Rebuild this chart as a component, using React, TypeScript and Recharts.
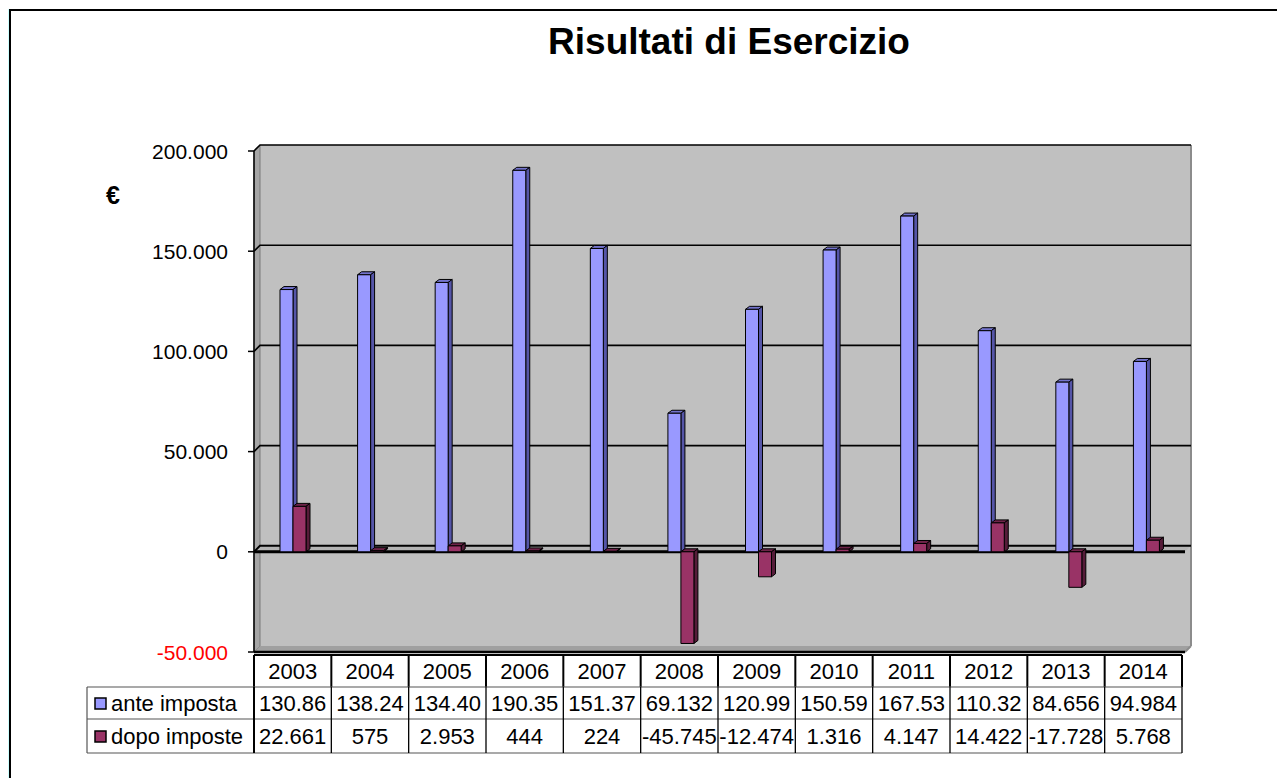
import React from 'react';
import { ComposedChart, Bar, XAxis, YAxis, ReferenceArea, ReferenceLine } from 'recharts';

const years = ['2003', '2004', '2005', '2006', '2007', '2008', '2009', '2010', '2011', '2012', '2013', '2014'];
const anteImposta = [130860, 138240, 134400, 190350, 151370, 69132, 120990, 150590, 167530, 110320, 84656, 94984];
const dopoImposte = [22661, 575, 2953, 444, 224, -45745, -12474, 1316, 4147, 14422, -17728, 5768];
const yTicks = [-50000, 0, 50000, 100000, 150000, 200000];
const gridTicks = [50000, 100000, 150000, 200000];
const seriesNames = ['ante imposta', 'dopo imposte'];
const seriesColors = ['#9999FF', '#993366'];
const seriesTop = ['#7373CC', '#6E2449'];
const seriesSide = ['#5555A8', '#561C39'];

const data = years.map((y, i) => ({ year: y, ante: anteImposta[i], dopo: dopoImposte[i] }));

const FONT = '"Liberation Sans", Arial, sans-serif';
const W = 1277;
const H = 770;
const DX = 6;
const DY = 6;

const fmt = (v: number) => {
  const s = Math.abs(v).toString().replace(/\B(?=(\d{3})+(?!\d))/g, '.');
  return (v < 0 ? '-' : '') + s;
};
const cellText = (v: number) => {
  const s = fmt(v);
  return v >= 100000 ? s.slice(0, 6) : s;
};

const WallShape = (p: any) => {
  const { x, y, width: w, height: h } = p;
  return (
    <g>
      <rect x={x + DX} y={y - DY} width={w} height={h} fill="#C0C0C0" />
      <polygon points={`${x},${y} ${x + DX},${y - DY} ${x + DX},${y + h - DY} ${x},${y + h}`} fill="#A6A6A6" stroke="#7A7A7A" strokeWidth={1} />
      <polygon points={`${x},${y + h} ${x + DX},${y + h - DY} ${x + w + DX},${y + h - DY} ${x + w},${y + h}`} fill="#A0A0A0" />
      <line x1={x + w + DX} y1={y - DY} x2={x + w + DX} y2={y + h - DY} stroke="#8C8C8C" strokeWidth={2} />
      <line x1={x + w} y1={y + h} x2={x + w + DX} y2={y + h - DY} stroke="#8C8C8C" strokeWidth={2} />
      <line x1={x} y1={y + h} x2={x + w} y2={y + h} stroke="#000" strokeWidth={2.5} />
      <line x1={x} y1={y} x2={x} y2={y + h} stroke="#000" strokeWidth={1.5} />
    </g>
  );
};

const GridShape = (p: any) => {
  const { x1, y1, x2, y2 } = p;
  return (
    <polyline
      points={`${x1},${y1} ${x1 + DX},${y1 - DY} ${x2 + DX},${y2 - DY}`}
      fill="none"
      stroke="#000"
      strokeWidth={1.6}
    />
  );
};

const ZeroShape = (p: any) => {
  const { x1, y1, x2, y2 } = p;
  return (
    <g>
      <polygon points={`${x1},${y1} ${x1 + DX},${y1 - DY} ${x2 + DX},${y2 - DY} ${x2},${y2}`} fill="#B4B4B4" />
      <polyline points={`${x1},${y1} ${x1 + DX},${y1 - DY} ${x2 + DX},${y2 - DY}`} fill="none" stroke="#000" strokeWidth={2} />
      <line x1={x1} y1={y1} x2={x2} y2={y2} stroke="#000" strokeWidth={3} />
    </g>
  );
};

const makeBarShape = (idx: number) => (p: any) => {
  const { x, y, width: w, height: h } = p;
  if (w == null || y == null) return <g />;
  const top = Math.min(y, y + h);
  const hh = Math.abs(h);
  const d = 4;
  const e = 3;
  return (
    <g stroke="#000" strokeWidth={1} strokeLinejoin="round">
      <polygon points={`${x},${top} ${x + d},${top - e} ${x + w + d},${top - e} ${x + w},${top}`} fill={seriesTop[idx]} />
      <polygon points={`${x + w},${top} ${x + w + d},${top - e} ${x + w + d},${top + hh - e} ${x + w},${top + hh}`} fill={seriesSide[idx]} />
      <rect x={x} y={top} width={w} height={hh} fill={seriesColors[idx]} />
    </g>
  );
};

const YTick = (p: any) => {
  const { x, y, payload } = p;
  const v = payload.value as number;
  return (
    <text x={x} y={y} dy="0.36em" textAnchor="end" fontSize={21} fontFamily={FONT} fill={v < 0 ? '#FF0000' : '#000'}>
      {fmt(v)}
    </text>
  );
};

// table geometry (container coordinates = page - 8)
const TL = 79;
const TC = 246;
const TR = 1174;
const ROWS = [647, 679, 711, 745];
const colW = (TR - TC) / years.length;

const Table = () => {
  const seriesVals = [anteImposta, dopoImposte];
  return (
    <g fontFamily={FONT} fontSize={22} fill="#000">
      <line x1={TC} y1={ROWS[0]} x2={TR} y2={ROWS[0]} stroke="#000" strokeWidth={2} />
      {years.map((_, i) => (
        <line key={'yv' + i} x1={TC + i * colW} y1={ROWS[0]} x2={TC + i * colW} y2={ROWS[1]} stroke="#000" strokeWidth={2} />
      ))}
      <line x1={TR} y1={ROWS[0]} x2={TR} y2={ROWS[1]} stroke="#000" strokeWidth={2} />
      {years.map((yr, i) => (
        <text key={'yt' + i} x={TC + (i + 0.5) * colW} y={(ROWS[0] + ROWS[1]) / 2} dy="0.36em" textAnchor="middle">
          {yr}
        </text>
      ))}
      {[1, 2, 3].map((r) => (
        <line key={'h' + r} x1={TL} y1={ROWS[r]} x2={TR} y2={ROWS[r]} stroke="#555" strokeWidth={1.2} />
      ))}
      <line x1={TL} y1={ROWS[1]} x2={TL} y2={ROWS[3]} stroke="#555" strokeWidth={1.2} />
      {years.map((_, i) => (
        <line key={'dv' + i} x1={TC + i * colW} y1={ROWS[1]} x2={TC + i * colW} y2={ROWS[3]} stroke="#000" strokeWidth={i === 0 ? 2 : 1.3} />
      ))}
      <line x1={TR} y1={ROWS[1]} x2={TR} y2={ROWS[3]} stroke="#000" strokeWidth={1.3} />
      {seriesNames.map((name, s) => {
        const cy = (ROWS[s + 1] + ROWS[s + 2]) / 2;
        return (
          <g key={'s' + s}>
            <rect x={TL + 8} y={cy - 5} width={11} height={11} fill={seriesColors[s]} stroke="#000" strokeWidth={1.5} />
            <text x={TL + 24} y={cy} dy="0.36em">{name}</text>
            {seriesVals[s].map((v, i) => (
              <text key={i} x={TC + (i + 0.5) * colW} y={cy} dy="0.36em" textAnchor="middle">
                {cellText(v)}
              </text>
            ))}
          </g>
        );
      })}
    </g>
  );
};

export default function App() {
  return (
    <div style={{ position: 'relative', width: W, height: H, background: '#fff' }}>
      <div style={{ position: 'absolute', left: -3, top: 1, width: 4, height: H + 8, background: '#CCFFFF' }} />
      <div style={{ position: 'absolute', left: 1, top: 1, width: 2, height: H + 8, background: '#000' }} />
      <div style={{ position: 'absolute', left: 1, top: 1, width: W + 8, height: 2, background: '#000' }} />
      <div style={{ position: 'absolute', left: 0, top: 0 }}>
        <ComposedChart
          width={W}
          height={H}
          data={data}
          margin={{ top: 143, right: 100, bottom: 126, left: 126 }}
          barGap={0}
          barCategoryGap="10%"
        >
          <XAxis dataKey="year" hide />
          <YAxis
            type="number"
            domain={[-50000, 200000]}
            ticks={yTicks}
            interval={0}
            width={120}
            axisLine={false}
            tickLine={{ stroke: '#000', strokeWidth: 1.5 }}
            tickSize={6}
            tickMargin={20}
            tick={<YTick />}
          />
          <ReferenceArea y1={-50000} y2={200000} shape={WallShape} ifOverflow="visible" zIndex={-300} />
          {gridTicks.map((t) => (
            <ReferenceLine key={t} y={t} shape={GridShape} ifOverflow="visible" zIndex={-200} />
          ))}
          <ReferenceLine y={0} shape={ZeroShape} ifOverflow="visible" zIndex={-150} />
          <Bar dataKey="ante" name={seriesNames[0]} barSize={13} fill={seriesColors[0]} shape={makeBarShape(0)} isAnimationActive={false} />
          <Bar dataKey="dopo" name={seriesNames[1]} barSize={13} fill={seriesColors[1]} shape={makeBarShape(1)} isAnimationActive={false} />
        </ComposedChart>
      </div>
      <svg width={W} height={H} style={{ position: 'absolute', left: 0, top: 0, pointerEvents: 'none', overflow: 'visible' }}>
        <text x={721} y={46} textAnchor="middle" fontFamily={FONT} fontWeight="bold" fontSize={37} fill="#000">
          Risultati di Esercizio
        </text>
        <text x={98} y={196} fontFamily={FONT} fontWeight="bold" fontSize={25} fill="#000">€</text>
        <Table />
      </svg>
    </div>
  );
}
